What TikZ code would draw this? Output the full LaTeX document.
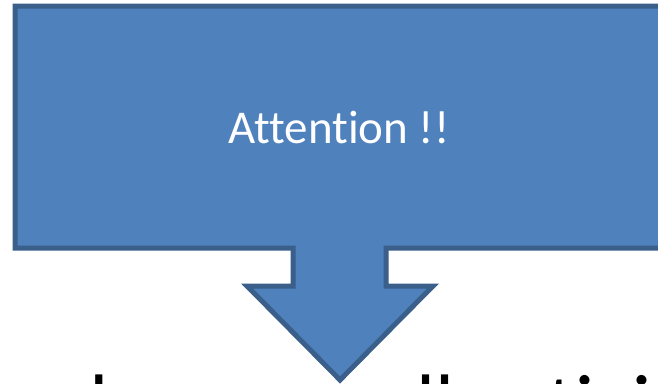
\documentclass[tikz,border=0pt]{standalone}
\usepackage{fontspec}
\setmainfont{Carlito}[Ligatures=NoCommon]
\definecolor{calfill}{HTML}{4F81BD}
\definecolor{caledge}{HTML}{3A5F8B}
\tikzset{
  callout/.style={fill=calfill, draw=caledge, line width=5pt, line join=miter},
  calltext/.style={text=white, font=\fontsize{47}{50}\selectfont, inner sep=0pt},
  bigtext/.style={text=black, font=\fontsize{83}{90}\selectfont, inner sep=0pt, anchor=base west}
}
\begin{document}
\begin{tikzpicture}[x=1pt,y=-1pt]
\useasboundingbox (0,0) rectangle (658,383);
\clip (0,0) rectangle (658,383);
\fill[white] (0,0) rectangle (658,383);
\draw[callout] (15,6) -- (680,6) -- (680,248) -- (386,248) -- (386,286) -- (433,286)
  -- (340,380) -- (247,286) -- (293,286) -- (293,248) -- (15,248) -- cycle;
\node[calltext] (att) at (339,128) {Attention !!};
\node[bigtext] (low) at (90,432) {keen on all activities};
\end{tikzpicture}
\end{document}
